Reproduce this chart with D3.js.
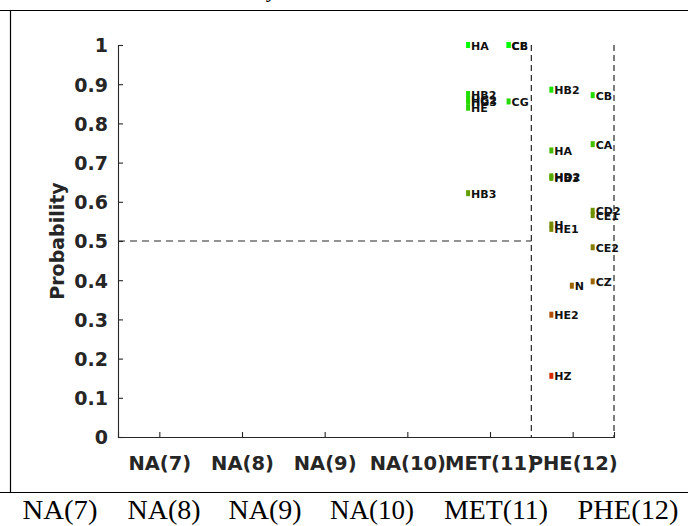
<!DOCTYPE html>
<html>
<head>
<meta charset="utf-8">
<script src="https://cdn.jsdelivr.net/npm/d3@7/dist/d3.min.js"></script>
<style>
  html, body { margin: 0; padding: 0; background: #fff; }
  svg { display: block; }
</style>
</head>
<body>
<svg id="chart" width="688" height="526"></svg>
<script>
// ---- data ----
const categories = ["NA(7)", "NA(8)", "NA(9)", "NA(10)", "MET(11)", "PHE(12)"];
const categoryIds = [7, 8, 9, 10, 11, 12];
const yTicks = [0, 0.1, 0.2, 0.3, 0.4, 0.5, 0.6, 0.7, 0.8, 0.9, 1];
const tableLabels = ["NA(7)", "NA(8)", "NA(9)", "NA(10)", "MET(11)", "PHE(12)"];

const atomLabels = ["HA", "CB", "CE", "HB2", "HG2", "HG3", "HE", "CG", "HB3",
                    "HB2", "CB", "HA", "CA", "HD2", "HB3", "H", "HE1", "CD2", "CE1",
                    "CE2", "CZ", "N", "HE2", "HZ"];
const atomX = [10.735, 11.225, 11.225, 10.735, 10.735, 10.735, 10.735, 11.225, 10.735,
               11.742, 12.242, 11.742, 12.242, 11.742, 11.742, 11.742, 11.742, 12.242, 12.242,
               12.242, 12.242, 11.99, 11.742, 11.742];
const atomProb = [1.0, 1.0, 1.0, 0.875, 0.862, 0.855, 0.84, 0.856, 0.622,
                  0.886, 0.872, 0.731, 0.747, 0.665, 0.661, 0.542, 0.531, 0.577, 0.566,
                  0.484, 0.397, 0.386, 0.312, 0.156];

const xThreshold = [11.5, 12.5];
const yThreshold = 0.5;

// ---- layout ----
const svg = d3.select("#chart");
const x = d3.scaleLinear().domain([6.5, 12.5]).range([118, 614]);
const y = d3.scaleLinear().domain([0, 1]).range([437, 45]);
const axisColor = "#262626";
const color = p => d3.interpolateRgb("rgb(255,0,0)", "rgb(0,255,0)")(p);

// table frame
svg.append("line").attr("x1", 0).attr("x2", 688).attr("y1", 10.5).attr("y2", 10.5)
  .attr("stroke", "#000").attr("stroke-width", 1.2);
svg.append("line").attr("x1", 10.5).attr("x2", 10.5).attr("y1", 10).attr("y2", 492)
  .attr("stroke", "#000").attr("stroke-width", 1.2);
svg.append("line").attr("x1", 0).attr("x2", 688).attr("y1", 492.5).attr("y2", 492.5)
  .attr("stroke", "#000").attr("stroke-width", 1.2);
// cut caption glyph at top
svg.append("text").attr("x", 268).attr("y", -3)
  .attr("font-family", "Liberation Serif").attr("font-style", "italic")
  .attr("font-size", 22).text("y");

// dashed threshold lines
svg.append("line")
  .attr("x1", x(6.5)).attr("x2", x(xThreshold[0]))
  .attr("y1", y(yThreshold)).attr("y2", y(yThreshold))
  .attr("stroke", axisColor).attr("stroke-width", 1.2).attr("stroke-dasharray", "7,5");
xThreshold.forEach(t => {
  svg.append("line")
    .attr("x1", x(t)).attr("x2", x(t))
    .attr("y1", y(1)).attr("y2", y(0))
    .attr("stroke", axisColor).attr("stroke-width", 1.2).attr("stroke-dasharray", "6,4");
});

// y axis
const yAxis = d3.axisLeft(y).tickValues(yTicks).tickSize(-5).tickPadding(10)
  .tickFormat(d => d3.format("~g")(d));
const gy = svg.append("g").attr("transform", `translate(${x(6.5)},0)`).call(yAxis);
gy.select(".domain").attr("stroke", axisColor).attr("stroke-width", 1.1);
gy.selectAll(".tick line").attr("stroke", axisColor).attr("stroke-width", 1.1);
gy.selectAll(".tick text").attr("font-family", "DejaVu Sans").attr("font-weight", "bold")
  .attr("font-size", 19).attr("fill", axisColor).attr("dy", "0.36em");

// x axis
const xAxis = d3.axisBottom(x).tickValues(categoryIds).tickSize(-5).tickPadding(19)
  .tickFormat((d, i) => categories[i]);
const gx = svg.append("g").attr("transform", `translate(0,${y(0)})`).call(xAxis);
gx.select(".domain").attr("stroke", axisColor).attr("stroke-width", 1.1);
gx.selectAll(".tick line").attr("stroke", axisColor).attr("stroke-width", 1.1);
gx.selectAll(".tick text").attr("font-family", "DejaVu Sans").attr("font-weight", "bold")
  .attr("font-size", 19.5).attr("fill", axisColor);

// y label
svg.append("text")
  .attr("transform", `translate(64,${y(0.5)}) rotate(-90)`)
  .attr("text-anchor", "middle")
  .attr("font-family", "DejaVu Sans").attr("font-weight", "bold").attr("font-size", 19)
  .attr("fill", axisColor).text("Probability");

// points
const pts = atomLabels.map((l, i) => ({ label: l, x: atomX[i], p: atomProb[i] }));
const gp = svg.append("g");
gp.selectAll("rect").data(pts).join("rect")
  .attr("x", d => x(d.x) - 2).attr("y", d => y(d.p) - 3)
  .attr("width", 4).attr("height", 6)
  .attr("fill", d => color(d.p));
gp.selectAll("text").data(pts).join("text")
  .attr("x", d => x(d.x) + 3).attr("y", d => y(d.p) + 4.5)
  .attr("font-family", "DejaVu Sans").attr("font-weight", "bold").attr("font-size", 11)
  .attr("fill", "#111").text(d => d.label);

// table bottom row
const tableCenters = [60, 164, 265, 372, 496, 628];
const tableWidths = [75, 73, 73, 84, 104, 101];
svg.append("g").selectAll("text").data(tableLabels).join("text")
  .attr("x", (d, i) => tableCenters[i]).attr("y", 519)
  .attr("text-anchor", "middle")
  .attr("textLength", (d, i) => tableWidths[i]).attr("lengthAdjust", "spacingAndGlyphs")
  .attr("font-family", "Liberation Serif").attr("font-size", 28)
  .attr("fill", "#000").text(d => d);
</script>
</body>
</html>
